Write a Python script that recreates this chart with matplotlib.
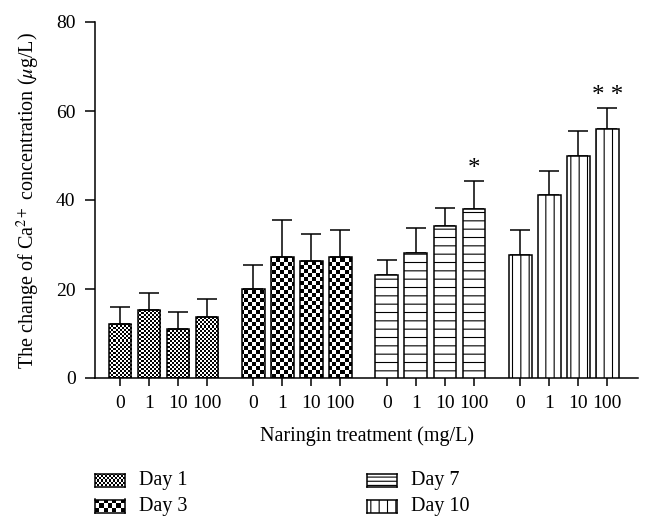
import numpy as np
import matplotlib.pyplot as plt
from matplotlib.patches import Rectangle

plt.rcParams['font.family'] = 'Liberation Serif'
plt.rcParams['mathtext.fontset'] = 'stix'
plt.rcParams['hatch.linewidth'] = 0.8

# data
doses = ['0', '1', '10', '100']
days = ['Day 1', 'Day 3', 'Day 7', 'Day 10']
means = [
    [12.2, 15.2, 11.0, 13.8],
    [20.0, 27.3, 26.3, 27.3],
    [23.2, 28.1, 34.2, 38.0],
    [27.7, 41.2, 50.0, 56.0],
]
errs = [
    [3.8, 3.8, 3.8, 3.9],
    [5.4, 8.1, 6.0, 5.9],
    [3.3, 5.5, 4.1, 6.2],
    [5.5, 5.3, 5.4, 4.6],
]
stars = {(2, 3): '*', (3, 3): '* *'}

W, H = 647, 530
fig = plt.figure(figsize=(W / 100, H / 100), dpi=100)
ax = fig.add_axes([95 / W, 1 - 378 / H, 543 / W, 356 / H])

group_gap = 4.6
width = 0.78


def checker(nx, ny):
    yy, xx = np.mgrid[0:ny, 0:nx]
    return ((xx + yy) % 2).astype(float)


ax_w, ax_h = 543, 356
textures = {0: 2, 1: 4}   # checker cell size in px
hatches = {2: '--', 3: '||'}
legend_hatches = {2: '----', 3: '||'}

xt, xl = [], []
for g in range(4):
    x = g * group_gap + np.arange(4)
    xt += list(x)
    xl += doses
    if g in textures:
        bars = ax.bar(x, means[g], width, facecolor='none', edgecolor='black',
                      linewidth=1.1, zorder=3)
        c = textures[g]
        img = checker(ax_w // c, ax_h // c)
        for b in bars:
            im = ax.imshow(img, cmap='gray', extent=[0, 1, 0, 1], transform=ax.transAxes,
                           interpolation='nearest', aspect='auto', zorder=2)
            im.set_clip_path(b)
    else:
        ax.bar(x, means[g], width, facecolor='white', edgecolor='black',
               linewidth=1.1, hatch=hatches[g], zorder=3)
    ax.errorbar(x, means[g], yerr=[np.zeros(4), errs[g]], fmt='none', ecolor='black',
                elinewidth=1.1, capsize=7, capthick=1.1, zorder=2.5)
    for (gg, i), s in stars.items():
        if gg == g:
            ax.text(x[i], means[g][i] + errs[g][i] + 0.3, s, ha='center', va='bottom',
                    fontsize=18)

ax.set_xlim(-0.86, 17.86)
ax.set_ylim(0, 80)
ax.set_yticks([0, 20, 40, 60, 80])
ax.set_xticks(xt)
ax.set_xticklabels(xl)
ax.tick_params(direction='out', width=1.1, labelsize=14)
ax.tick_params(axis='x', length=5.5, pad=7)
ax.tick_params(axis='y', length=7, pad=7)
for s in ['top', 'right']:
    ax.spines[s].set_visible(False)
for s in ['left', 'bottom']:
    ax.spines[s].set_linewidth(1.1)
ax.set_xlabel('Naringin treatment (mg/L)', fontsize=14.5, labelpad=10)
ax.set_ylabel('The change of Ca$^{2+}$ concentration ($\\mu$g/L)', fontsize=14.5, labelpad=10)

# legend drawn by hand below the axes
pos = [(95, 480), (95, 506), (367, 480), (367, 506)]
for k, (px, py) in enumerate(pos):
    sw = fig.add_axes([px / W, 1 - (py + 6.5) / H, 30 / W, 13 / H])
    sw.set_xticks([])
    sw.set_yticks([])
    if k in textures:
        c = textures[k]
        sw.imshow(checker(30 // c, 13 // c), cmap='gray', aspect='auto',
                  interpolation='nearest')
    else:
        sw.add_patch(Rectangle((0, 0), 1, 1, facecolor='white', edgecolor='black',
                               hatch=legend_hatches[k], transform=sw.transAxes, linewidth=0))
    for s in sw.spines.values():
        s.set_linewidth(1.1)
    fig.text((px + 44) / W, 1 - py / H, days[k], fontsize=14.5, va='center')

fig.savefig('out.png', dpi=100)
